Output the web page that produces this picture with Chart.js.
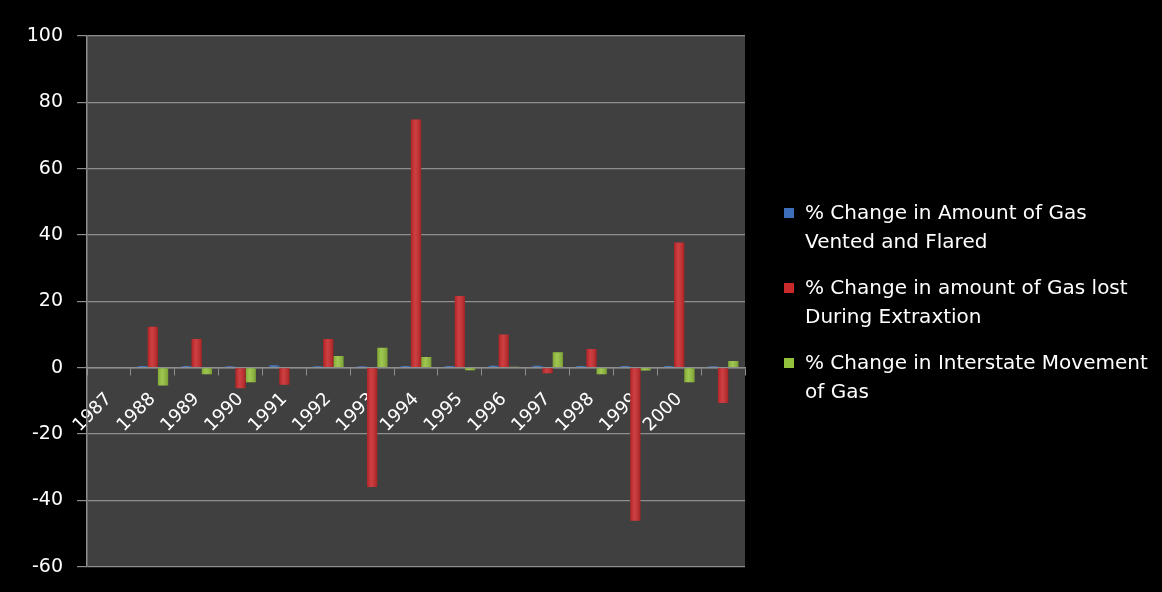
<!DOCTYPE html>
<html>
<head>
<meta charset="utf-8">
<script src="https://cdn.jsdelivr.net/npm/chart.js@4.4.1/dist/chart.umd.min.js"></script>
<style>
  html, body { margin: 0; padding: 0; background: #000; }
  #wrap { position: relative; width: 1162px; height: 592px; background: #000; }
  #c { position: absolute; left: 0; top: 0; }
  #legend { position: absolute; left: 784px; top: 198px; color: #fff;
            font-family: "DejaVu Sans", sans-serif; font-size: 20px; line-height: 29px; }
  .item { position: relative; padding-left: 21px; margin-bottom: 17px; white-space: nowrap; }
  .sw { position: absolute; left: 0; top: 10px; width: 10px; height: 10px; }
</style>
</head>
<body>
<div id="wrap">
  <canvas id="c" width="1162" height="592"></canvas>
  <div id="legend"></div>
</div>
<script>
const categories = ['1987','1988','1989','1990','1991','1992','1993','1994','1995','1996','1997','1998','1999','2000',''];
const ventedFlared = [null, 0.5, 0.5, 0.4, 0.7, 0.4, 0.4, 0.5, 0.5, 0.6, 0.6, 0.5, 0.5, 0.5, 0.4];
const lostExtraction = [null, 12.3, 8.6, -6.2, -5.2, 8.6, -36, 74.8, 21.6, 10, -1.7, 5.6, -46.2, 37.7, -10.7];
const interstate = [null, -5.4, -2, -4.4, 0, 3.5, 6, 3.2, -0.8, 0.3, 4.6, -2, -0.9, -4.4, 2];
const seriesNames = [
  ['% Change in Amount of Gas', 'Vented and Flared'],
  ['% Change in amount of Gas lost', 'During Extraxtion'],
  ['% Change in Interstate Movement', 'of Gas']
];
const yTicks = [-60, -40, -20, 0, 20, 40, 60, 80, 100];
const colors = ['#3b6fb9', '#c8292b', '#93c03d'];

const gridGray = '#8e8e8e';

const plotBg = {
  id: 'plotBg',
  beforeDraw(chart) {
    const {ctx, chartArea: a} = chart;
    ctx.save();
    ctx.fillStyle = '#404040';
    ctx.fillRect(a.left, a.top, a.right - a.left, a.bottom - a.top);
    ctx.restore();
  }
};

// subtle cylinder shading over each bar, using the bar elements' own geometry
const barShade = {
  id: 'barShade',
  afterDatasetsDraw(chart) {
    const ctx = chart.ctx;
    ctx.save();
    chart.data.datasets.forEach((ds, di) => {
      chart.getDatasetMeta(di).data.forEach(bar => {
        const p = bar.getProps(['x', 'y', 'base', 'width'], true);
        if (p.y == null || isNaN(p.y)) return;
        const l = p.x - p.width / 2, r = p.x + p.width / 2;
        const top = Math.min(p.y, p.base), h = Math.abs(p.base - p.y);
        if (h < 0.5) return;
        const g = ctx.createLinearGradient(l, 0, r, 0);
        g.addColorStop(0, 'rgba(0,0,0,0.12)');
        g.addColorStop(0.4, 'rgba(255,255,255,0.10)');
        g.addColorStop(1, 'rgba(0,0,0,0.18)');
        ctx.fillStyle = g;
        ctx.fillRect(l, top, r - l, h);
      });
    });
    ctx.restore();
  }
};

new Chart(document.getElementById('c'), {
  type: 'bar',
  data: {
    labels: categories,
    datasets: [
      { label: seriesNames[0].join(' '), data: ventedFlared, backgroundColor: colors[0] },
      { label: seriesNames[1].join(' '), data: lostExtraction, backgroundColor: colors[1] },
      { label: seriesNames[2].join(' '), data: interstate, backgroundColor: colors[2] }
    ]
  },
  options: {
    responsive: false,
    animation: false,
    devicePixelRatio: 1,
    datasets: { bar: { categoryPercentage: 0.7, barPercentage: 1.0 } },
    layout: { padding: { left: 0, right: 417, top: 36, bottom: 23 } },
    plugins: { legend: { display: false }, tooltip: { enabled: false } },
    scales: {
      x: {
        position: { y: 0 },
        grid: { offset: true, drawOnChartArea: false, drawTicks: true, tickLength: 7, color: gridGray },
        border: { display: true, color: gridGray, width: 1.5 },
        ticks: { autoSkip: false, minRotation: 45, maxRotation: 45, padding: 14, color: '#fff',
                 font: { family: 'DejaVu Sans', size: 18 } }
      },
      y: {
        min: -60, max: 100,
        afterBuildTicks(scale) { scale.ticks = yTicks.map(v => ({ value: v })); },
        afterFit(scale) { scale.width = 87; },
        grid: { color: gridGray, lineWidth: 1.2, drawTicks: true, tickLength: 10 },
        border: { display: true, color: gridGray, width: 1.5 },
        ticks: { padding: 14, color: '#fff', font: { family: 'DejaVu Sans', size: 19 } }
      }
    }
  },
  plugins: [plotBg, barShade]
});

const legend = document.getElementById('legend');
seriesNames.forEach((lines, i) => {
  const it = document.createElement('div');
  it.className = 'item';
  const sw = document.createElement('span');
  sw.className = 'sw';
  sw.style.background = colors[i];
  it.appendChild(sw);
  lines.forEach((t, j) => {
    if (j) it.appendChild(document.createElement('br'));
    it.appendChild(document.createTextNode(t));
  });
  legend.appendChild(it);
});
</script>
</body>
</html>
